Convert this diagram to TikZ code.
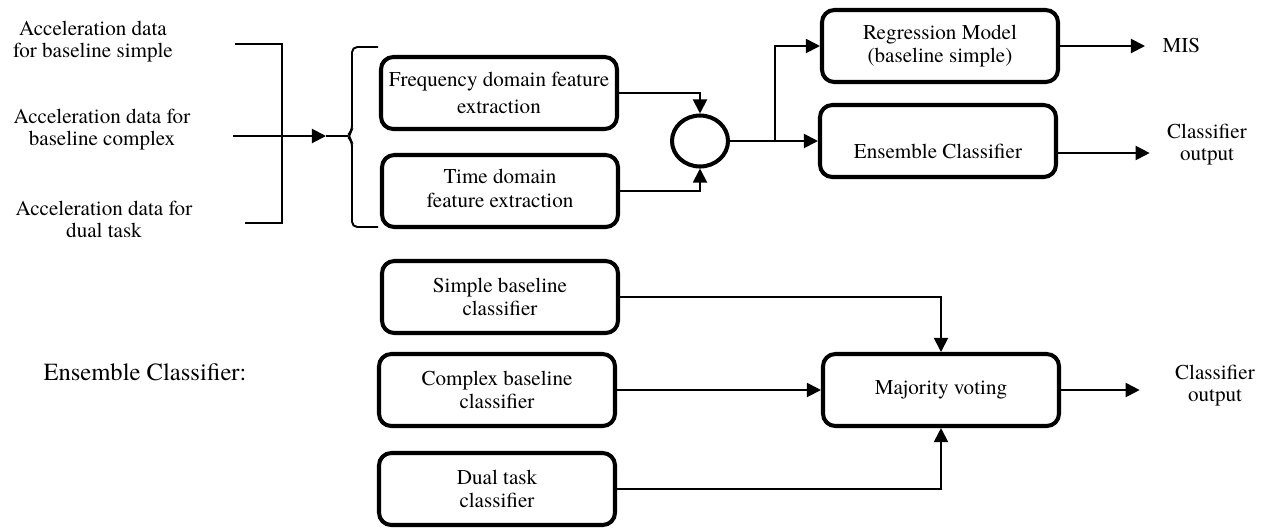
\documentclass[tikz,border=0pt]{standalone}
\usepackage{fontspec}
\setmainfont{TeX Gyre Termes}
\usetikzlibrary{positioning, arrows.meta, shapes.geometric}

\begin{document}
\begin{tikzpicture}[
        block/.style={
            rectangle,
            draw,
            line width=2.3pt,
            rounded corners=7pt,
            minimum width=4.72cm,
            minimum height=1.44cm,
            align=center,
            font=\fontsize{12}{13.5}\selectfont
        },
        junction/.style={
            ellipse,
            draw,
            line width=2.3pt,
            minimum width=1.12cm,
            minimum height=1.02cm,
            inner sep=0pt
        },
        txt/.style={
            align=center,
            font=\fontsize{12}{12.5}\selectfont
        },
        outtxt/.style={
            txt,
            inner sep=0.15cm,
            outer sep=0.2cm
        },
        arrow/.style={
            -{Triangle[length=8pt,width=8pt]},
            line width=1.1pt
        },
        bracket/.style={
            line width=1.1pt
        }
    ]
    \useasboundingbox (0,0) rectangle (25.34,-10.58);

    % Input data
    \node[txt] (acc_simple) at (1.86,-0.84) {Acceleration data\\for baseline simple};
    \node[txt] (acc_complex) at (2.04,-2.6) {Acceleration data for\\baseline complex};
    \node[txt] (acc_dual) at (2.08,-4.38) {Acceleration data for\\dual task};
    \coordinate (data_in) at (4.66,-2.72);
    \coordinate (brace_tip) at (6.52,-2.72);

    % Feature extraction
    \node[block, font=\fontsize{12}{15}\selectfont] (freq) at (9.98,-1.86) {Frequency domain feature\\extraction};
    \node[block] (time) at (10.0,-3.82) {\raisebox{0.12cm}{Time domain}\\\raisebox{0.12cm}{feature extraction}};
    \node[junction] (join) at (14.0,-2.82) {};
    \coordinate (split) at (15.5,-2.82);

    % Models
    \node[block] (regr) at (18.8,-0.92) {Regression Model\\(baseline simple)};
    \node[block] (ens) at (18.76,-2.82) {\raisebox{-0.34cm}[0pt][0pt]{Ensemble Classifier}};
    \node[outtxt, anchor=west] (mis) at (22.9,-0.92) {MIS};
    \node[outtxt] (ens_out) at (24.14,-2.9) {Classifier\\output};

    % Ensemble classifier
    \node[txt, font=\fontsize{14}{15}\selectfont] (ens_title) at (2.9,-7.44) {Ensemble Classifier:};
    \node[block] (simple) at (10.0,-5.94) {Simple baseline\\classifier};
    \node[block] (complex) at (9.94,-7.8) {Complex baseline\\classifier};
    \node[block] (dual) at (9.94,-9.78) {Dual task\\classifier};
    \node[block] (vote) at (18.82,-7.8) {Majority voting};
    \node[outtxt] (vote_out) at (24.3,-7.72) {Classifier\\output};

    % Brackets
    \draw[bracket] (4.7,-0.88) -- (5.64,-0.88) -- (5.64,-4.46) -- (4.9,-4.46);
    \draw[bracket, rounded corners=3pt] (7.56,-0.94) -- (7.04,-0.94) -- (7.04,-2.62)
        -- (6.94,-2.72) -- (7.04,-2.82) -- (7.04,-4.54) -- (7.56,-4.54);
    \draw[bracket] (brace_tip) -- (6.96,-2.72);

    % Arrows
    \draw[arrow] (data_in) -- (brace_tip);
    \draw[arrow] (freq.east) -| (join.north);
    \draw[arrow] (time.east) -| (join.south);
    \draw[arrow] (join.east) -- (ens.west);
    \draw[arrow] (split) |- (regr.west);
    \draw[arrow] (regr.east) -- (mis.west);
    \draw[arrow] ([yshift=-0.24cm]ens.east) -- ([yshift=-0.16cm]ens_out.west);

    \draw[arrow] (simple.east) -| (vote.north);
    \draw[arrow] (complex.east) -- (vote.west);
    \draw[arrow] (dual.east) -| (vote.south);
    \draw[arrow, shorten >=0.36cm] (vote.east) -- ([yshift=-0.08cm]vote_out.west);

\end{tikzpicture}
\end{document}
